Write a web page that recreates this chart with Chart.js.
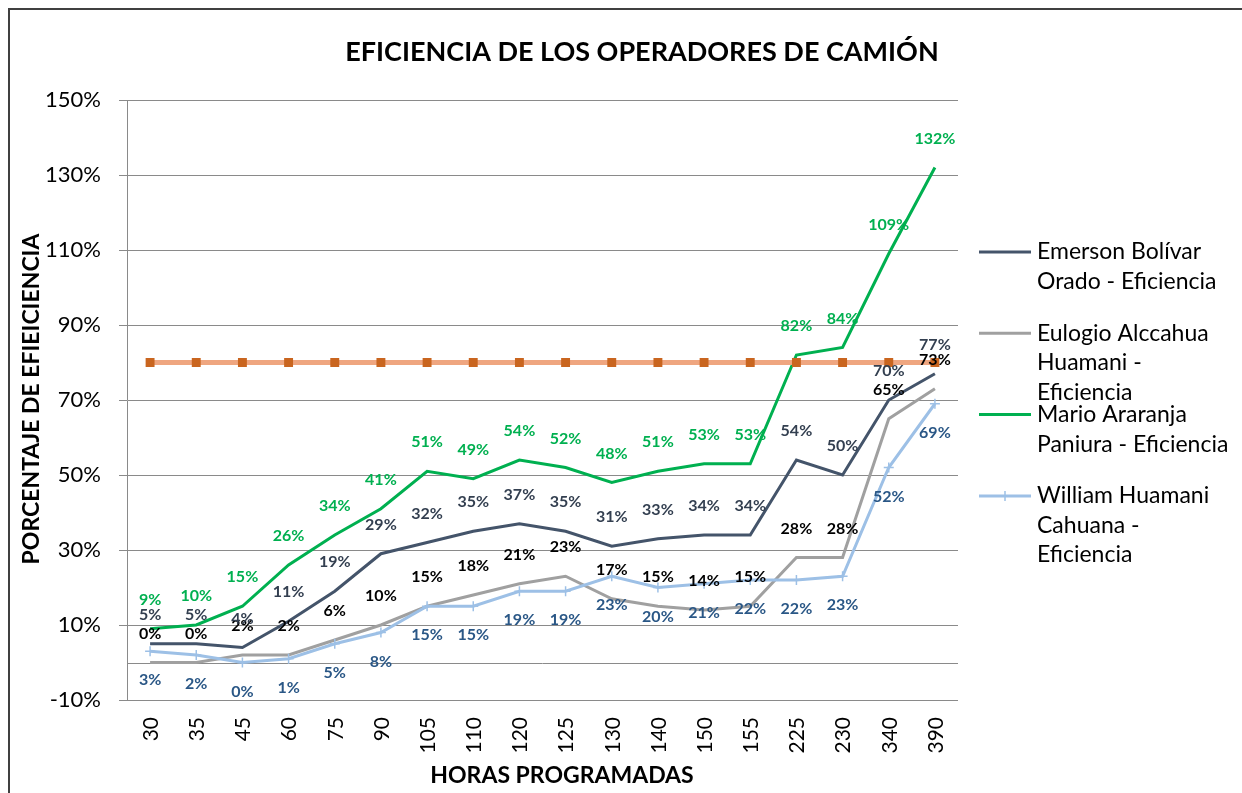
<!DOCTYPE html>
<html><head><meta charset="utf-8">
<script src="https://cdn.jsdelivr.net/npm/chart.js@4.4.1/dist/chart.umd.min.js"></script>
<style>html,body{margin:0;padding:0;background:#fff;}#wrap{width:1242px;height:793px;position:relative;overflow:hidden}</style>
</head><body><div id="wrap"><canvas id="c" width="1242" height="793"></canvas></div>
<script>
const categories = ['30','35','45','60','75','90','105','110','120','125','130','140','150','155','225','230','340','390'];
const emerson = [5,5,4,11,19,29,32,35,37,35,31,33,34,34,54,50,70,77];
const eulogio = [0,0,2,2,6,10,15,18,21,23,17,15,14,15,28,28,65,73];
const mario   = [9,10,15,26,34,41,51,49,54,52,48,51,53,53,82,84,109,132];
const william = [3,2,0,1,5,8,15,15,19,19,23,20,21,22,22,23,52,69];
const meta    = [80,80,80,80,80,80,80,80,80,80,80,80,80,80,80,80,80,80];
const yTicks  = [-10,10,30,50,70,90,110,130,150];
const seriesNames = [
  ['Emerson Bolívar','Orado - Eficiencia'],
  ['Eulogio Alccahua','Huamani -','Eficiencia'],
  ['Mario Araranja','Paniura - Eficiencia'],
  ['William Huamani','Cahuana -','Eficiencia']
];
const chartTitle = 'EFICIENCIA DE LOS OPERADORES DE CAMIÓN';
const yTitle = 'PORCENTAJE DE EFIEICIENCIA';
const xTitle = 'HORAS PROGRAMADAS';

const FONT = 'Lato';
const lineColors = ['#44546A','#A0A0A0','#00B050','#9DC0E6'];
const labelColors = ['#333F50','#000000','#00B050','#2A5786'];
const labelPos = ['above','above','above','below'];

const ds = [
  {label:'Meta', data:meta, borderColor:'#EFA680', backgroundColor:'#C9651F', borderWidth:5,
   pointStyle:'rect', pointRadius:6.3, pointBorderColor:'#C9651F', pointBackgroundColor:'#C9651F', pointBorderWidth:0, _series:-1},
  {label:seriesNames[3].join(' '), data:william, borderColor:lineColors[3], backgroundColor:lineColors[3], borderWidth:3,
   pointStyle:'cross', pointRadius:5, pointBorderWidth:1.5, pointBorderColor:lineColors[3], _series:3},
  {label:seriesNames[2].join(' '), data:mario, borderColor:lineColors[2], backgroundColor:lineColors[2], borderWidth:3, pointRadius:0, _series:2},
  {label:seriesNames[1].join(' '), data:eulogio, borderColor:lineColors[1], backgroundColor:lineColors[1], borderWidth:3, pointRadius:0, _series:1},
  {label:seriesNames[0].join(' '), data:emerson, borderColor:lineColors[0], backgroundColor:lineColors[0], borderWidth:3, pointRadius:0, _series:0}
];
ds.forEach(d=>{d.tension=0; d.fill=false;});

const framePlugin = {
  id:'frame',
  beforeDraw(chart){
    const c = chart.ctx;
    c.save();
    c.fillStyle='#fff'; c.fillRect(0,0,chart.width,chart.height);
    c.strokeStyle='#404040'; c.lineWidth=2;
    c.strokeRect(9,9,chart.width+20,chart.height+20);
    c.restore();
  }
};
const zeroPlugin = {
  id:'zero',
  beforeDatasetsDraw(chart){
    const c=chart.ctx, y=chart.scales.y.getPixelForValue(0), a=chart.chartArea;
    c.save(); c.strokeStyle='#8a8a8a'; c.lineWidth=1;
    c.beginPath(); c.moveTo(a.left, Math.round(y)+0.5); c.lineTo(a.right, Math.round(y)+0.5); c.stroke();
    c.restore();
  }
};
const labelsPlugin = {
  id:'vlabels',
  afterDatasetsDraw(chart){
    const c=chart.ctx;
    c.save();
    c.font = 'bold 16px '+FONT;
    c.textAlign='center'; c.textBaseline='middle';
    chart.data.datasets.forEach((d,i)=>{
      const s=d._series; if(s<0) return;
      const meta=chart.getDatasetMeta(i);
      c.fillStyle=labelColors[s];
      meta.data.forEach((pt,j)=>{
        const off = labelPos[s]==='above' ? -29 : 29;
        c.fillText(d.data[j]+'%', pt.x, pt.y+off);
      });
    });
    c.restore();
  }
};
const textPlugin = {
  id:'texts',
  afterDraw(chart){
    const c=chart.ctx;
    c.save();
    // category tick labels (rotated, top-aligned)
    const xs = chart.scales.x;
    c.fillStyle='#000'; c.font='21px '+FONT; c.textAlign='right'; c.textBaseline='middle';
    chart.data.labels.forEach((lab,i)=>{
      const px = xs.getPixelForTick(i);
      c.save(); c.translate(px+1, 717); c.rotate(-Math.PI/2); c.fillText(lab,0,0); c.restore();
    });
    c.textAlign='center'; c.textBaseline='middle';
    c.font='bold 27px '+FONT;
    c.fillText(chartTitle, 642, 52);
    c.font='bold 23px '+FONT;
    c.fillText(xTitle, 562, 776);
    c.save(); c.translate(32, 399); c.rotate(-Math.PI/2); c.fillText(yTitle,0,0); c.restore();
    // legend
    c.font='23px '+FONT; c.textAlign='left';
    const startY=252, gap=81.3, lh=29.5;
    for(let s=0;s<4;s++){
      const y=startY+gap*s;
      c.strokeStyle=lineColors[s]; c.lineWidth=3;
      c.beginPath(); c.moveTo(979,y); c.lineTo(1031,y); c.stroke();
      if(s===3){ c.lineWidth=1.5; c.beginPath(); c.moveTo(1005,y-5); c.lineTo(1005,y+5); c.stroke(); }
      c.fillStyle='#000';
      seriesNames[s].forEach((t,k)=>c.fillText(t,1037,y+k*lh));
    }
    c.restore();
  }
};

new Chart(document.getElementById('c'), {
  type:'line',
  data:{labels:categories, datasets:ds},
  options:{
    responsive:false, animation:false, devicePixelRatio:1,
    layout:{padding:{top:100,right:284,bottom:0,left:0}},
    plugins:{legend:{display:false}, title:{display:false}, tooltip:{enabled:false}},
    scales:{
      x:{
        offset:true,
        grid:{display:false, drawTicks:false, offset:true}, border:{display:false},
        ticks:{display:false, autoSkip:false},
        afterFit(s){ s.height=93; }
      },
      y:{
        min:-10, max:150,
        grid:{color:'#8a8a8a', lineWidth:1, tickLength:8, drawTicks:true},
        border:{color:'#8a8a8a', width:1},
        ticks:{color:'#000', font:{family:FONT,size:22}, padding:18, callback:v=>v+'%'},
        afterBuildTicks(s){ s.ticks = yTicks.map(v=>({value:v})); },
        afterFit(s){ s.width=127; }
      }
    }
  },
  plugins:[framePlugin, zeroPlugin, labelsPlugin, textPlugin]
});
</script></body></html>
